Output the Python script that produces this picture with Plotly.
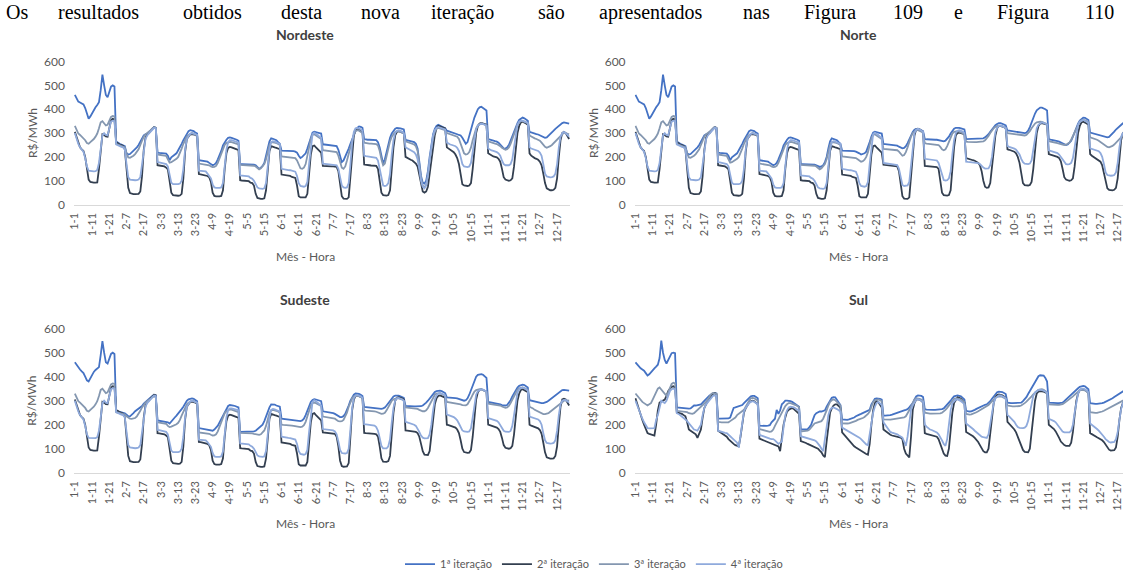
import plotly.graph_objects as go

# ---------------- data ----------------
months = list(range(1, 13))
hours = list(range(1, 25))
categories = [f"{m}-{h}" for m in months for h in hours]
tick_labels = categories[::10]
y_ticks = [0, 100, 200, 300, 400, 500, 600]
series_names = ["1ª iteração", "2ª iteração", "3ª iteração", "4ª iteração"]
panel_titles = ["Nordeste", "Norte", "Sudeste", "Sul"]
top_text = "Os resultados obtidos desta nova iteração são apresentados nas Figura 109 e Figura 110"

nordeste_it1 = [
    460,445,432,428,425,420,405,380,360,370,385,398,408,418,430,480,545,500,460,450,470,495,500,495,
    265,258,255,252,248,245,215,210,212,218,225,232,240,250,262,280,290,295,298,300,310,320,325,320,
    218,217,216,215,215,214,205,186,198,205,208,215,228,240,255,270,285,298,308,312,310,308,302,298,
    186,185,184,183,182,180,175,170,165,168,175,190,205,225,248,262,272,280,282,280,278,275,272,268,
    170,170,170,170,170,170,170,170,168,165,155,150,155,162,175,200,235,265,278,276,274,270,262,255,
    226,226,225,225,225,225,225,224,222,218,205,195,200,208,215,235,260,285,302,306,305,303,300,298,
    252,252,251,250,250,250,249,248,245,230,200,178,185,200,215,235,255,275,292,310,322,328,326,322,
    275,272,272,272,272,272,272,270,262,240,205,172,190,225,260,280,298,310,318,322,322,320,318,315,
    272,270,268,266,265,262,255,235,180,120,92,88,100,140,200,255,295,318,330,335,332,328,325,320,
    310,308,305,302,300,298,295,292,290,280,265,255,262,285,310,340,365,385,400,408,410,405,400,395,
    275,272,270,268,266,264,260,252,242,236,235,240,250,268,290,310,328,342,355,362,365,362,358,352,
    305,302,300,298,296,294,290,286,282,280,282,288,295,302,310,318,325,332,338,342,345,344,342,340,
]
nordeste_it2 = [
    305,280,255,240,232,225,200,150,105,95,92,92,92,93,150,240,295,292,286,285,320,355,360,358,
    262,256,252,250,246,232,150,70,48,45,44,44,44,45,55,120,230,280,295,300,310,320,325,322,
    165,164,163,162,160,155,148,100,50,40,38,37,37,38,45,110,220,275,288,295,296,295,292,288,
    128,127,126,125,124,120,115,95,50,36,34,33,34,36,60,150,215,238,242,240,238,235,232,228,
    102,101,100,100,100,98,92,90,80,45,28,25,24,24,26,60,150,225,245,244,240,238,235,232,
    126,125,124,124,123,120,116,114,112,80,35,30,29,29,30,45,120,210,245,248,240,232,225,218,
    162,161,161,160,160,160,160,159,158,140,80,35,25,24,24,30,120,230,290,315,318,316,312,305,
    168,166,165,165,164,164,163,162,150,100,50,40,38,38,40,60,150,240,290,305,308,306,304,300,
    200,195,190,188,185,180,172,160,125,80,55,50,55,75,125,185,245,292,320,330,328,325,322,320,
    240,235,230,225,220,210,195,170,120,85,80,78,78,80,90,150,240,300,330,340,342,340,338,335,
    215,210,205,202,200,198,192,180,150,115,105,102,100,102,110,160,240,300,330,345,348,345,340,335,
    215,205,198,195,192,188,180,165,130,90,68,62,60,60,62,70,110,200,270,300,305,300,290,275,
]
nordeste_it3 = [
    330,310,298,292,285,280,270,258,255,262,268,275,285,298,320,345,350,340,332,335,355,368,372,370,
    255,252,250,248,246,240,215,198,196,200,205,212,220,232,250,270,285,295,300,305,312,320,325,322,
    210,209,208,207,206,204,190,176,178,182,186,192,200,215,235,255,272,285,292,298,300,298,295,290,
    172,171,170,170,169,168,165,160,157,158,162,175,195,215,235,250,258,262,263,262,260,258,255,252,
    166,166,165,165,165,165,165,165,163,160,152,148,152,160,170,190,220,250,262,262,260,258,255,250,
    202,201,200,200,200,199,198,197,195,185,165,152,150,155,170,200,240,275,292,295,290,285,280,275,
    228,227,226,225,225,225,224,223,220,205,175,155,150,160,185,215,245,275,295,308,312,310,306,300,
    260,258,257,256,256,255,255,254,248,225,190,165,172,205,240,265,285,298,305,308,308,305,302,298,
    265,262,260,258,256,252,245,225,170,110,80,72,85,125,185,240,280,305,318,322,320,318,315,312,
    300,298,296,294,292,290,285,275,255,230,215,210,212,220,240,270,300,320,332,338,340,338,335,332,
    265,262,260,258,256,254,250,245,238,232,230,232,240,255,275,300,320,335,345,350,350,348,345,342,
    290,285,280,278,275,272,268,260,250,242,238,240,245,250,258,265,272,280,290,298,302,300,298,295,
]
nordeste_it4 = [
    300,275,255,240,230,222,195,160,142,140,139,139,140,145,175,230,290,300,292,290,320,348,352,350,
    252,248,245,242,240,232,170,115,105,103,102,102,103,105,115,170,240,275,290,298,308,318,322,320,
    178,177,176,175,174,170,160,120,92,86,85,85,86,88,100,150,230,275,290,298,300,298,295,292,
    142,141,140,140,139,130,122,110,85,72,70,69,70,72,90,160,230,262,270,270,268,265,262,260,
    122,121,120,120,120,118,112,108,100,85,72,68,66,66,68,90,160,230,262,266,264,262,258,255,
    150,148,146,145,145,144,142,140,138,120,90,78,75,75,78,95,170,250,295,302,298,292,285,280,
    172,171,170,170,170,170,169,168,165,150,110,80,72,70,72,90,170,260,305,320,322,320,316,310,
    205,203,202,200,200,199,198,196,185,150,100,80,78,80,90,130,210,270,300,310,312,310,306,300,
    240,236,232,228,225,220,210,190,150,100,75,68,80,120,185,250,290,312,322,326,324,320,318,315,
    260,255,252,250,248,245,238,225,200,170,160,157,157,160,175,220,280,315,332,338,340,338,335,332,
    235,230,227,225,223,220,215,205,185,170,165,164,165,170,190,240,300,335,348,352,352,350,346,342,
    240,235,232,230,228,225,218,205,170,130,118,115,114,115,118,130,170,240,285,300,305,300,292,285,
]

norte_it1 = [
    460,445,432,428,425,420,405,380,360,370,385,398,408,418,430,480,545,500,460,450,470,495,500,495,
    265,258,255,252,248,245,215,210,212,218,225,232,240,250,262,280,290,295,298,300,310,320,325,320,
    218,217,216,215,215,214,205,186,198,205,208,215,228,240,255,270,285,298,308,312,310,308,302,298,
    186,185,184,183,182,180,175,170,165,168,175,190,205,225,248,262,272,280,282,280,278,275,272,268,
    170,170,170,170,170,170,170,170,168,165,160,158,160,165,178,200,235,265,278,276,274,270,262,255,
    226,226,225,225,225,225,225,224,222,220,215,210,212,215,222,240,262,285,302,306,305,303,300,298,
    254,254,253,252,252,251,250,249,247,243,238,236,238,245,258,275,292,305,314,318,318,316,312,308,
    275,274,273,273,272,272,272,272,270,268,265,265,268,275,285,298,310,318,322,323,322,320,318,315,
    275,275,275,275,275,275,275,275,275,276,278,282,288,295,305,315,325,333,338,342,342,340,336,332,
    310,310,309,308,308,306,305,303,302,300,300,302,310,325,345,365,382,395,403,407,407,405,400,395,
    275,273,272,270,268,266,264,260,255,252,250,252,258,268,285,305,325,340,352,360,365,364,360,355,
    302,300,298,296,294,292,290,288,286,284,282,284,290,298,306,315,322,330,336,341,345,347,347,346,
]
norte_it2 = [
    305,280,255,240,232,225,200,150,105,95,92,92,92,93,150,240,295,292,286,285,320,355,360,358,
    262,256,252,250,246,232,150,70,48,45,44,44,44,45,55,120,230,280,295,300,310,320,325,322,
    165,164,163,162,160,155,148,100,50,40,38,37,37,38,45,110,220,275,288,295,296,295,292,288,
    128,127,126,125,124,120,115,95,50,36,34,33,34,36,60,150,215,238,242,240,238,235,232,228,
    102,101,100,100,100,98,92,90,80,45,28,25,24,24,26,60,150,225,245,244,240,238,235,232,
    126,125,124,124,123,120,116,114,112,80,35,30,29,29,30,45,120,210,245,248,240,232,225,218,
    167,166,165,165,164,164,163,162,160,140,80,35,25,24,24,30,120,230,290,315,318,316,312,305,
    162,161,160,160,160,159,158,157,150,100,50,40,38,38,40,60,150,240,290,300,302,300,298,295,
    195,192,190,188,186,184,180,175,165,140,100,75,70,72,90,150,230,290,320,330,330,328,325,320,
    232,230,228,225,222,215,200,175,130,90,82,80,80,82,95,150,240,300,330,340,342,340,338,335,
    212,210,207,205,203,200,195,182,150,115,105,102,100,102,110,160,240,300,330,345,348,345,340,335,
    212,205,200,196,192,188,180,165,130,90,68,62,60,60,62,70,110,200,270,300,305,303,298,290,
]
norte_it3 = [
    330,310,298,292,285,280,270,258,255,262,268,275,285,298,320,345,350,340,332,335,355,368,372,370,
    255,252,250,248,246,240,215,198,196,200,205,212,220,232,250,270,285,295,300,305,312,320,325,322,
    210,209,208,207,206,204,190,176,178,182,186,192,200,215,235,255,272,285,292,298,300,298,295,290,
    172,171,170,170,169,168,165,160,157,158,162,175,195,215,235,250,258,262,263,262,260,258,255,252,
    166,166,165,165,165,165,165,165,163,160,152,148,152,160,170,190,220,250,262,262,260,258,255,250,
    202,201,200,200,200,199,198,197,195,190,185,180,182,188,200,220,250,278,292,295,290,285,280,275,
    234,233,232,232,232,232,231,230,228,222,212,205,208,220,240,265,285,300,308,312,312,310,306,300,
    258,256,255,255,255,255,254,253,250,242,232,228,232,245,265,285,298,305,308,308,306,304,300,296,
    264,263,262,262,262,262,262,262,262,263,265,270,278,288,300,312,320,326,330,332,330,328,325,322,
    300,299,298,297,296,295,294,292,290,290,290,292,298,308,320,332,340,345,347,348,347,345,342,338,
    266,265,264,262,260,258,256,253,250,250,251,254,260,272,288,305,322,338,348,354,355,354,350,346,
    282,280,278,275,272,268,262,256,250,245,242,240,242,246,252,260,268,276,284,292,298,300,300,298,
]
norte_it4 = [
    300,275,255,240,230,222,195,160,142,140,139,139,140,145,175,230,290,300,292,290,320,348,352,350,
    252,248,245,242,240,232,170,115,105,103,102,102,103,105,115,170,240,275,290,298,308,318,322,320,
    178,177,176,175,174,170,160,120,92,86,85,85,86,88,100,150,230,275,290,298,300,298,295,292,
    142,141,140,140,139,130,122,110,85,72,70,69,70,72,90,160,230,262,270,270,268,265,262,260,
    122,121,120,120,120,118,112,108,100,85,72,68,66,66,68,90,160,230,262,266,264,262,258,255,
    150,148,146,145,145,144,142,140,138,120,90,78,75,75,78,95,170,250,295,302,298,292,285,280,
    175,174,173,172,172,171,170,169,166,150,110,82,78,78,80,95,170,255,300,315,318,316,312,306,
    192,191,190,190,190,189,188,185,175,150,120,103,101,102,110,140,210,270,300,310,312,310,306,300,
    180,179,178,178,178,177,176,174,170,162,155,151,150,152,165,200,260,305,322,330,332,330,326,322,
    245,242,240,238,235,230,222,210,192,178,172,170,170,172,185,230,285,320,335,342,345,343,340,336,
    228,226,224,222,220,216,210,200,185,175,170,169,170,175,195,240,300,335,348,353,355,352,348,342,
    236,234,232,230,228,224,216,200,170,135,124,122,121,122,124,135,175,240,285,300,303,302,298,292,
]

sudeste_it1 = [
    460,448,438,430,422,415,400,385,380,395,410,420,428,434,440,490,548,500,460,455,475,495,500,495,
    258,256,255,254,252,248,242,236,235,240,248,256,262,266,270,278,288,295,300,305,312,320,325,322,
    218,217,216,215,215,214,210,205,212,222,230,238,246,255,265,275,288,300,306,308,310,308,302,298,
    186,185,184,183,182,180,178,176,175,180,188,196,210,225,240,252,265,278,282,282,280,278,275,272,
    170,170,170,170,170,170,170,171,172,175,182,190,195,200,215,235,255,272,285,286,284,280,278,275,
    225,224,224,223,223,222,222,221,220,219,218,215,218,225,240,260,280,295,303,306,305,303,300,298,
    256,255,254,253,252,250,248,245,240,234,232,232,236,245,260,280,300,315,325,330,330,328,325,320,
    274,273,273,273,272,272,271,270,268,266,266,268,272,280,290,300,310,318,321,322,321,318,315,312,
    278,277,277,277,276,276,276,276,276,277,280,285,292,300,310,320,330,336,340,342,342,340,336,332,
    314,314,313,312,312,311,310,308,305,302,300,302,310,325,345,365,385,400,408,411,411,408,402,395,
    295,294,293,292,291,290,288,285,282,280,280,282,290,302,318,332,345,355,362,366,367,365,360,355,
    302,300,298,296,294,292,290,290,290,292,295,300,306,312,318,324,330,335,340,344,345,345,344,342,
]
sudeste_it2 = [
    305,280,255,240,232,225,200,150,105,95,92,92,92,93,150,240,295,292,286,285,320,355,360,358,
    262,256,252,250,246,232,150,70,48,45,44,44,44,45,55,120,230,280,295,300,310,320,325,322,
    165,164,163,162,160,155,148,100,50,40,38,37,37,38,45,110,220,275,288,295,296,295,292,288,
    128,127,126,125,124,120,115,95,50,36,34,33,34,36,60,150,215,238,242,240,238,235,232,228,
    102,101,100,100,100,98,92,90,80,45,28,25,24,24,26,60,150,225,245,244,240,238,235,232,
    126,125,124,124,123,120,116,114,112,80,35,30,29,29,30,45,120,210,245,248,240,232,225,218,
    168,167,166,165,165,164,163,162,150,110,50,28,25,25,26,40,150,260,305,320,322,320,316,310,
    166,165,165,164,164,163,162,160,150,110,60,46,45,45,48,70,160,250,300,312,315,313,310,305,
    176,175,174,174,173,172,170,165,150,120,90,75,73,74,90,150,230,285,310,320,322,320,316,312,
    200,198,196,194,192,188,180,165,135,100,86,84,83,84,95,150,240,305,335,345,348,345,342,338,
    200,198,196,194,192,188,182,170,145,115,104,101,100,102,112,160,240,300,330,345,348,345,340,335,
    200,196,193,190,188,185,178,162,125,85,64,60,59,59,60,70,110,200,275,305,308,305,295,280,
]
sudeste_it3 = [
    330,310,298,292,285,280,270,258,255,262,268,275,285,298,320,345,350,340,332,335,355,368,372,370,
    252,250,249,248,246,242,235,228,225,224,225,228,235,245,258,272,285,292,298,302,308,315,318,315,
    210,209,208,207,206,204,195,190,192,195,198,202,208,220,238,256,272,285,292,298,300,298,295,290,
    168,167,166,166,165,164,162,158,155,156,160,172,192,212,232,248,256,262,264,263,261,258,255,252,
    166,166,165,165,165,165,165,164,162,160,158,158,160,166,176,195,222,248,260,262,260,258,255,250,
    200,199,199,198,198,197,196,195,193,191,190,190,192,198,212,235,260,280,290,292,290,286,282,278,
    234,233,232,232,231,230,228,225,220,215,214,215,220,232,250,275,295,310,318,322,322,320,315,310,
    260,259,259,258,258,257,256,254,250,246,245,246,250,260,275,290,300,306,310,311,310,308,305,300,
    272,271,270,270,270,269,268,266,262,258,256,256,260,270,285,300,315,325,330,332,331,328,325,322,
    295,294,294,293,292,291,290,288,285,282,280,281,285,295,310,325,338,344,347,348,347,345,342,338,
    288,287,287,286,286,285,283,280,276,272,270,272,278,290,305,320,335,345,352,355,355,353,350,345,
    275,272,268,262,258,254,250,246,244,244,245,248,254,260,266,272,278,284,290,296,300,302,302,300,
]
sudeste_it4 = [
    300,275,255,240,230,222,195,160,145,144,143,143,144,148,175,230,290,300,292,290,320,348,352,350,
    252,248,245,242,240,232,170,115,105,103,102,102,103,105,115,170,240,275,290,298,308,318,322,320,
    178,177,176,175,174,170,160,120,92,86,85,85,86,88,100,150,230,275,290,298,300,298,295,292,
    138,137,136,136,135,128,120,108,82,68,66,65,66,68,88,160,230,262,268,268,266,264,262,260,
    122,121,120,120,120,118,112,108,100,85,72,68,66,66,68,90,160,230,262,266,264,262,258,255,
    150,148,146,145,145,144,142,140,138,120,90,78,75,75,78,95,170,250,295,302,298,292,285,280,
    182,181,180,180,179,178,176,172,160,130,95,82,80,80,82,100,180,270,310,322,324,322,318,312,
    202,201,200,200,199,198,196,190,175,145,112,101,100,101,110,140,210,270,300,310,312,310,306,300,
    212,210,208,206,204,200,195,185,170,155,146,143,142,144,160,200,260,305,322,330,332,330,326,322,
    242,240,238,236,232,226,218,205,188,176,172,170,170,172,185,230,290,325,340,346,348,346,342,338,
    228,226,224,222,220,216,210,200,185,175,171,170,170,174,195,240,300,335,348,353,355,352,348,342,
    234,232,230,228,226,222,215,200,165,135,124,122,121,122,124,135,175,240,285,300,303,302,298,292,
]

sul_it1 = [
    460,450,440,435,430,425,415,405,410,420,428,435,442,450,478,550,500,470,455,470,490,498,500,498,
    272,271,270,270,270,270,269,267,268,275,280,280,281,282,285,292,300,310,318,322,325,330,332,330,
    226,225,225,225,225,225,226,230,250,270,272,275,275,278,282,290,298,305,312,318,320,320,315,310,
    196,195,195,195,195,196,198,210,218,225,262,245,260,285,292,300,300,300,298,295,290,285,280,275,
    180,180,180,180,182,190,200,220,240,248,252,255,255,256,260,275,290,300,312,315,314,305,295,282,
    222,221,220,220,222,224,226,230,235,240,242,245,248,250,254,258,262,285,300,308,310,310,308,305,
    238,238,238,239,240,242,245,248,250,252,255,258,260,262,265,272,280,290,305,318,322,322,320,315,
    265,263,262,262,262,262,262,262,262,263,265,268,275,283,290,300,310,318,320,322,320,318,312,305,
    258,256,255,256,258,262,266,270,274,278,282,283,285,290,298,308,318,328,335,338,338,336,332,328,
    292,290,290,290,290,290,290,290,292,298,305,315,328,340,352,365,379,392,402,406,406,405,395,380,
    292,291,290,290,290,290,290,290,292,298,305,312,320,328,335,340,345,352,358,361,362,360,355,348,
    290,288,287,287,287,287,288,290,292,295,298,302,306,310,315,320,325,330,335,340,343,345,345,344,
]
sul_it2 = [
    310,285,262,240,220,200,180,165,162,160,158,155,200,260,292,296,300,305,320,340,350,358,360,355,
    252,250,248,245,240,235,210,180,175,170,165,160,145,165,180,230,270,285,300,310,320,330,332,328,
    175,170,168,162,158,150,140,132,125,120,115,112,110,150,200,250,268,282,292,298,300,298,292,285,
    142,140,136,133,130,127,125,122,120,118,115,110,90,150,200,230,255,262,268,270,265,258,250,245,
    132,130,127,124,120,117,114,110,107,103,100,92,85,72,65,130,200,250,268,280,285,285,278,270,
    168,160,150,140,132,124,116,110,105,100,96,92,88,82,78,75,120,200,260,290,298,295,285,272,
    180,174,168,162,158,155,153,152,150,148,146,140,100,80,72,64,150,262,290,305,306,304,300,292,
    165,162,160,160,158,156,154,150,140,120,100,80,71,70,100,180,250,290,305,314,312,308,300,292,
    170,166,162,158,152,145,138,128,115,100,90,85,85,100,160,240,290,315,324,326,325,322,318,312,
    212,205,198,190,180,168,150,130,110,95,87,85,85,100,160,240,300,330,338,340,340,338,335,330,
    200,195,190,182,172,160,145,130,120,115,112,111,112,125,170,240,300,330,345,348,348,345,340,332,
    165,160,156,152,148,144,140,135,128,118,105,96,92,92,94,105,150,220,270,290,297,298,296,292,
]
sul_it3 = [
    330,320,310,300,295,290,285,280,285,290,305,320,335,350,355,345,338,330,320,335,355,370,375,372,
    258,257,256,255,255,254,252,248,245,245,248,255,262,266,272,280,288,295,305,318,328,332,330,328,
    212,210,210,210,210,210,210,215,220,225,230,240,245,250,255,262,275,290,300,310,312,310,305,300,
    182,180,178,176,175,172,170,172,180,195,210,225,240,255,268,278,285,290,290,288,285,282,278,272,
    172,172,172,173,175,180,190,200,205,208,210,212,215,225,240,260,280,295,302,305,302,295,288,280,
    206,205,205,205,206,208,210,213,216,220,222,225,228,232,238,245,255,280,295,302,305,305,302,298,
    222,221,221,221,221,222,223,224,225,226,227,228,230,235,245,260,275,290,305,310,310,308,305,300,
    250,248,247,246,246,246,246,246,246,247,250,255,262,270,280,290,300,308,310,310,308,305,300,295,
    245,243,242,243,245,248,252,256,260,265,270,272,276,282,290,298,305,312,316,318,318,316,312,308,
    280,278,276,276,276,276,277,278,280,284,290,296,302,310,318,326,334,340,345,348,348,345,340,335,
    285,284,283,283,283,283,283,284,286,290,295,300,306,312,318,325,332,338,343,345,345,343,338,332,
    252,250,249,249,249,250,252,255,258,262,266,270,274,278,282,286,290,294,298,300,302,303,304,304,
]
sul_it4 = [
    300,280,260,240,225,210,195,186,185,185,185,186,220,240,270,300,295,290,300,320,340,348,350,348,
    248,245,240,235,228,222,215,205,195,185,180,178,175,188,200,240,270,285,295,305,315,320,322,320,
    175,172,170,168,166,165,160,152,145,138,132,125,105,160,210,255,270,282,290,295,298,295,290,285,
    158,155,152,148,145,143,142,140,140,135,125,120,125,130,190,240,260,272,275,275,272,268,262,258,
    152,150,147,145,143,140,138,136,135,130,122,112,100,90,140,200,240,262,270,272,270,265,260,255,
    188,184,180,176,172,168,164,160,155,150,146,140,132,125,118,115,160,210,250,275,290,295,290,282,
    210,200,190,180,170,167,165,162,160,155,150,146,130,112,150,220,262,280,295,305,306,304,300,295,
    200,192,185,180,178,175,172,168,160,150,135,120,112,140,200,260,290,300,305,305,302,298,292,285,
    205,200,195,190,182,175,168,160,155,150,148,146,145,160,200,250,290,310,318,322,322,320,315,310,
    240,235,228,220,212,200,190,187,186,186,188,195,215,250,290,320,335,342,345,346,345,342,338,332,
    225,222,220,215,210,200,190,180,172,168,167,167,168,175,200,250,300,330,345,350,350,348,342,335,
    205,200,195,190,182,175,168,160,150,140,132,128,126,126,128,140,170,220,265,290,300,303,302,300,
]

# ---------------- style / layout ----------------
W, H = 1123, 579
colors = ["#4472C4", "#333F50", "#8497B0", "#8FAADC"]
sans = "Lato, Liberation Sans, sans-serif"
axis_font = dict(family=sans, size=11, color="#595959")


def fx(p):
    return p / W


def fy(p):
    return 1 - p / H


panels = [
    (panel_titles[0], [nordeste_it1, nordeste_it2, nordeste_it3, nordeste_it4]),
    (panel_titles[1], [norte_it1, norte_it2, norte_it3, norte_it4]),
    (panel_titles[2], [sudeste_it1, sudeste_it2, sudeste_it3, sudeste_it4]),
    (panel_titles[3], [sul_it1, sul_it2, sul_it3, sul_it4]),
]
for title, ser in panels:
    for s in ser:
        if len(s) != len(categories):
            raise ValueError(f"{title}: series length {len(s)}")

lefts = [74, 634.6, 74, 634.6]
col_centers = [305, 858, 305, 858]
ytitle_x = [32, 593, 32, 593]
row_px = [(62, 206), (62, 206), (331, 476), (331, 476)]
title_y = [35, 35, 302, 302]
xtitle_y = [258, 258, 527, 527]
plot_w = 496
cat_w = plot_w / len(categories)

fig = go.Figure()
annotations = []
layout_axes = {}
for k, (title, ser) in enumerate(panels):
    sfx = "" if k == 0 else str(k + 1)
    for j, vals in enumerate(ser):
        fig.add_trace(go.Scatter(
            x=categories, y=vals, mode="lines", name=series_names[j],
            line=dict(color=colors[j], width=1.8),
            legendgroup=series_names[j], showlegend=(k == 0),
            xaxis="x" + sfx, yaxis="y" + sfx, hoverinfo="skip",
        ))
    left = lefts[k]
    right = min(left + plot_w, W)
    xr = [-0.5, -0.5 + (right - left) / cat_w]
    top, bottom = row_px[k]
    layout_axes["xaxis" + sfx] = dict(
        domain=[fx(left), fx(right)], range=xr, type="category",
        tickmode="array", tickvals=tick_labels, ticktext=tick_labels,
        tickangle=-90, showline=True, linecolor="#D9D9D9", linewidth=1,
        showgrid=False, zeroline=False, ticks="", tickfont=axis_font,
        anchor="y" + sfx, automargin=False, ticklabelstandoff=3,
    )
    layout_axes["yaxis" + sfx] = dict(
        domain=[fy(bottom), fy(top)], range=[0, 600], tickmode="array",
        tickvals=y_ticks, showline=False, showgrid=False, zeroline=False,
        ticks="", tickfont=dict(axis_font, size=12), anchor="x" + sfx,
        automargin=False, ticklabelstandoff=8,
    )
    annotations.append(dict(text=f"<b>{title}</b>", x=fx(col_centers[k]), y=fy(title_y[k]),
                            xref="paper", yref="paper", showarrow=False,
                            font=dict(family=sans, size=14, color="#404040"),
                            xanchor="center", yanchor="middle"))
    annotations.append(dict(text="Mês - Hora", x=fx(col_centers[k]), y=fy(xtitle_y[k]),
                            xref="paper", yref="paper", showarrow=False,
                            font=dict(family=sans, size=12, color="#595959"),
                            xanchor="center", yanchor="middle"))
    annotations.append(dict(text="R$/MWh", x=fx(ytitle_x[k]), y=fy((top + bottom) / 2),
                            xref="paper", yref="paper", showarrow=False, textangle=-90,
                            font=dict(family=sans, size=12, color="#595959"),
                            xanchor="center", yanchor="middle"))

# justified sentence across the top of the page (one annotation per word)
words = top_text.split()
fs_top = 20
est_w = [len(w) * 0.46 * fs_top for w in words]
span_left, span_right = 5, 1112
gap = (span_right - span_left - sum(est_w)) / (len(words) - 1)
xpos = span_left
for w, ww in zip(words, est_w):
    annotations.append(dict(
        text=w, x=fx(xpos), y=1.0, xref="paper", yref="paper", showarrow=False,
        font=dict(family="Liberation Serif, Times New Roman, serif", size=fs_top, color="#000000"),
        xanchor="left", yanchor="top", borderpad=0))
    xpos += ww + gap

fig.update_layout(
    width=W, height=H, margin=dict(l=0, r=0, t=0, b=0),
    paper_bgcolor="white", plot_bgcolor="white",
    showlegend=True,
    legend=dict(orientation="h", x=fx(594), y=fy(568), xanchor="center", yanchor="middle",
                font=dict(family=sans, size=11, color="#595959"),
                bgcolor="rgba(0,0,0,0)", itemclick=False, itemdoubleclick=False),
    annotations=annotations,
    **layout_axes,
)

fig.write_html("out.html", config={"displayModeBar": False, "staticPlot": True},
               post_script="document.body.style.margin='0';document.body.style.overflow='hidden';")
